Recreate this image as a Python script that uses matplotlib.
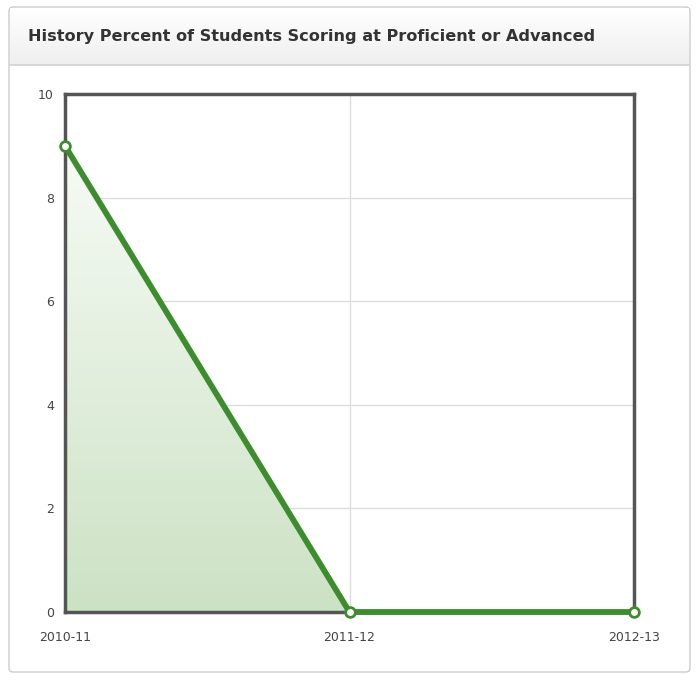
import numpy as np
import matplotlib
matplotlib.use("Agg")
import matplotlib.pyplot as plt
from matplotlib.patches import FancyBboxPatch
from matplotlib.colors import LinearSegmentedColormap

# Data
years = ["2010-11", "2011-12", "2012-13"]
values = [9, 0, 0]
yticks = [0, 2, 4, 6, 8, 10]
title = "History Percent of Students Scoring at Proficient or Advanced"

W, H = 697, 675
fig = plt.figure(figsize=(W / 100, H / 100), dpi=100)
fig.patch.set_facecolor("white")

def fx(px):
    return px / W

def fy(py):
    return 1 - py / H

# Panel border
panel = FancyBboxPatch((fx(9), fy(672)), fx(690) - fx(9), fy(7) - fy(672),
                       boxstyle="round,pad=0,rounding_size=0.006",
                       transform=fig.transFigure, facecolor="white",
                       edgecolor="#cccccc", linewidth=1, zorder=-10)
fig.patches.append(panel)

# Header gradient
hax = fig.add_axes([fx(10), fy(64), fx(689) - fx(10), fy(8) - fy(64)], zorder=1)
grad = np.linspace(0, 1, 100).reshape(-1, 1)
hcmap = LinearSegmentedColormap.from_list("h", ["#ffffff", "#efefef"])
hax.imshow(grad, aspect="auto", cmap=hcmap, extent=[0, 1, 0, 1], origin="upper")
hax.set_axis_off()
fig.add_artist(plt.Line2D([fx(10), fx(689)], [fy(64.5), fy(64.5)],
                          transform=fig.transFigure, color="#cfcfcf", lw=1.2,
                          zorder=3))
fig.text(fx(28), fy(37), title, fontsize=11.6, fontweight="bold",
         color="#333333", va="center", ha="left", family="DejaVu Sans",
         zorder=4)

# Main axes
left, right, top, bottom = 65, 634, 94, 612
ax = fig.add_axes([fx(left), fy(bottom), fx(right) - fx(left), fy(top) - fy(bottom)],
                  zorder=2)
ax.set_facecolor("white")
x = np.arange(len(years))

# Grid
for yt in yticks[1:-1]:
    ax.axhline(yt, color="#dddddd", lw=1, zorder=1)
ax.axvline(1, color="#dddddd", lw=1, zorder=1)

# Gradient fill
poly = ax.fill_between(x, values, 0, facecolor="none", edgecolor="none")
fcmap = LinearSegmentedColormap.from_list("f", ["#cce2c4", "#f7fbf6"])
img = ax.imshow(np.linspace(0, 1, 256).reshape(-1, 1), aspect="auto", cmap=fcmap,
                extent=[0, len(years) - 1, 0, max(values)], origin="lower", zorder=2)
img.set_clip_path(poly.get_paths()[0], transform=ax.transData)
ax.set_xlim(0, len(years) - 1)
ax.set_ylim(0, 10)

# Line and markers
ax.plot(x, values, color="#3d8d2e", lw=4.2, zorder=4, solid_capstyle="round",
        clip_on=False)
ax.plot(x, values, linestyle="none", marker="o", markersize=7,
        markerfacecolor="white", markeredgecolor="#3d8d2e", markeredgewidth=2.0,
        zorder=5, clip_on=False)

for s in ax.spines.values():
    s.set_color("#555555")
    s.set_linewidth(2.5)
    s.set_zorder(3)

ax.set_yticks(yticks)
ax.set_yticklabels([str(v) for v in yticks])
ax.set_xticks(x)
ax.set_xticklabels(years)
ax.tick_params(axis="both", length=0, labelsize=9, labelcolor="#444444")
ax.tick_params(axis="x", pad=14)
ax.tick_params(axis="y", pad=8)

fig.savefig("out.png", dpi=100, facecolor="white")
